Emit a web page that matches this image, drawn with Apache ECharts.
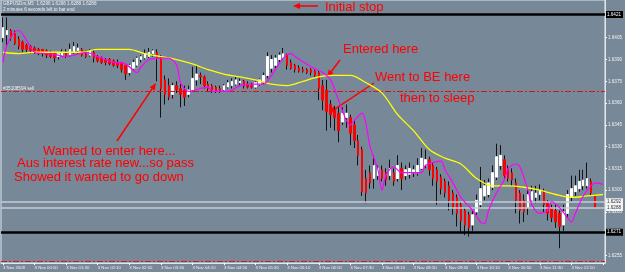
<!DOCTYPE html>
<html>
<head>
<meta charset="utf-8">
<title>GBPUSDm,M5</title>
<script src="https://cdn.jsdelivr.net/npm/echarts@6/dist/echarts.min.js"></script>
<style>
html,body{margin:0;padding:0;background:#778899;}
#chart{width:625px;height:272px;}
</style>
</head>
<body>
<div id="chart"></div>
<script>
// 5 minute bars, 3 Nov 2009 (last two slots are the empty shift on the right)
const times = [
  "00:10","00:15","00:20","00:25","00:30","00:35","00:40","00:45","00:50","00:55",
  "01:00","01:05","01:10","01:15","01:20","01:25","01:30","01:35","01:40","01:45","01:50","01:55",
  "02:00","02:05","02:10","02:15","02:20","02:25","02:30","02:35","02:40","02:45","02:50","02:55",
  "03:00","03:05","03:10","03:15","03:20","03:25","03:30","03:35","03:40","03:45","03:50","03:55",
  "04:00","04:05","04:10","04:15","04:20","04:25","04:30","04:35","04:40","04:45","04:50","04:55",
  "05:00","05:05","05:10","05:15","05:20","05:25","05:30","05:35","05:40","05:45","05:50","05:55",
  "06:00","06:05","06:10","06:15","06:20","06:25","06:30","06:35","06:40","06:45","06:50","06:55",
  "07:00","07:05","07:10","07:15","07:20","07:25","07:30","07:35","07:40","07:45","07:50","07:55",
  "08:00","08:05","08:10","08:15","08:20","08:25","08:30","08:35","08:40","08:45","08:50","08:55",
  "09:00","09:05","09:10","09:15","09:20","09:25","09:30","09:35","09:40","09:45","09:50","09:55",
  "10:00","10:05","10:10","10:15","10:20","10:25","10:30","10:35","10:40","10:45","10:50","10:55",
  "11:00","11:05","11:10","11:15","11:20","11:25","11:30","11:35","11:40","11:45","11:50","11:55",
  "12:00","12:05","12:10","12:15","12:20","12:25","12:30","12:35","12:40","12:45","12:50"
];

const opens = [
  1.6405,1.6407,1.6410,1.6408,1.6404,1.6402,1.6400,1.6399,1.6398,1.6397,
  1.6397,1.6396,1.6395,1.6394,1.6392,1.6393,1.6395,1.6393,1.6395,1.6396,
  1.6397,1.6394,1.6393,1.6395,1.6392,1.6391,1.6390,1.6390,1.6389,1.6388,
  1.6388,1.6386,1.6381,1.6384,1.6386,1.6390,1.6391,1.6392,1.6394,1.6395,
  1.6391,1.6376,1.6372,1.6366,1.6372,1.6370,1.6369,1.6366,1.6369,1.6376,
  1.6379,1.6378,1.6373,1.6372,1.6371,1.6370,1.6369,1.6371,1.6372,1.6373,
  1.6374,1.6375,1.6373,1.6372,1.6371,1.6373,1.6375,1.6379,1.6384,1.6386,
  1.6390,1.6391,1.6393,1.6388,1.6386,1.6384,1.6383,1.6383,1.6383,1.6382,
  1.6381,1.6372,1.6369,1.6359,1.6355,1.6353,1.6347,1.6350,1.6350,1.6345,
  1.6334,1.6328,1.6308,1.6312,1.6308,1.6310,1.6314,1.6312,1.6310,1.6312,
  1.6308,1.6315,1.6310,1.6311,1.6312,1.6312,1.6315,1.6317,1.6321,1.6317,
  1.6314,1.6309,1.6306,1.6303,1.6298,1.6295,1.6290,1.6286,1.6283,1.6276,
  1.6285,1.6290,1.6296,1.6297,1.6302,1.6309,1.6317,1.6321,1.6315,1.6312,
  1.6305,1.6298,1.6293,1.6288,1.6293,1.6295,1.6297,1.6299,1.6291,1.6288,
  1.6286,1.6284,1.6276,1.6284,1.6295,1.6299,1.6301,1.6303,1.6303,1.6306,
  1.6296
];
const highs = [
  1.6419,1.6419,1.6411,1.6410,1.6406,1.6403,1.6401,1.6400,1.6399,1.6398,
  1.6397,1.6397,1.6396,1.6395,1.6395,1.6397,1.6397,1.6401,1.6402,1.6401,
  1.6398,1.6396,1.6397,1.6397,1.6393,1.6392,1.6391,1.6391,1.6390,1.6390,
  1.6388,1.6386,1.6387,1.6390,1.6392,1.6393,1.6397,1.6398,1.6397,1.6397,
  1.6393,1.6379,1.6377,1.6374,1.6375,1.6373,1.6372,1.6372,1.6385,1.6386,
  1.6381,1.6379,1.6375,1.6373,1.6372,1.6372,1.6373,1.6376,1.6377,1.6378,
  1.6377,1.6376,1.6375,1.6374,1.6375,1.6377,1.6381,1.6395,1.6393,1.6393,
  1.6395,1.6398,1.6394,1.6390,1.6387,1.6386,1.6385,1.6384,1.6384,1.6383,
  1.6382,1.6376,1.6376,1.6362,1.6358,1.6357,1.6357,1.6359,1.6352,1.6348,
  1.6338,1.6330,1.6314,1.6317,1.6324,1.6317,1.6317,1.6315,1.6321,1.6315,
  1.6324,1.6319,1.6317,1.6319,1.6317,1.6322,1.6329,1.6328,1.6323,1.6319,
  1.6316,1.6311,1.6308,1.6306,1.6300,1.6297,1.6292,1.6288,1.6285,1.6286,
  1.6297,1.6316,1.6307,1.6308,1.6317,1.6332,1.6331,1.6324,1.6317,1.6315,
  1.6308,1.6300,1.6297,1.6300,1.6303,1.6303,1.6304,1.6301,1.6293,1.6290,
  1.6290,1.6286,1.6290,1.6300,1.6310,1.6310,1.6314,1.6314,1.6319,1.6308,
  1.6296
];
const lows = [
  1.6402,1.6399,1.6403,1.6400,1.6397,1.6395,1.6395,1.6394,1.6394,1.6393,
  1.6392,1.6391,1.6391,1.6388,1.6390,1.6392,1.6391,1.6392,1.6394,1.6394,
  1.6392,1.6391,1.6392,1.6388,1.6388,1.6387,1.6386,1.6386,1.6385,1.6384,
  1.6381,1.6376,1.6379,1.6383,1.6385,1.6388,1.6390,1.6391,1.6392,1.6375,
  1.6350,1.6359,1.6362,1.6363,1.6367,1.6357,1.6358,1.6364,1.6368,1.6372,
  1.6373,1.6370,1.6368,1.6367,1.6367,1.6367,1.6368,1.6370,1.6370,1.6372,
  1.6372,1.6370,1.6370,1.6370,1.6370,1.6372,1.6373,1.6377,1.6381,1.6384,
  1.6388,1.6390,1.6383,1.6383,1.6381,1.6381,1.6381,1.6380,1.6379,1.6378,
  1.6362,1.6355,1.6341,1.6343,1.6341,1.6333,1.6345,1.6343,1.6331,1.6329,
  1.6317,1.6296,1.6291,1.6301,1.6301,1.6307,1.6306,1.6303,1.6307,1.6303,
  1.6306,1.6300,1.6307,1.6308,1.6309,1.6310,1.6314,1.6315,1.6310,1.6303,
  1.6290,1.6297,1.6295,1.6286,1.6283,1.6275,1.6271,1.6269,1.6268,1.6272,
  1.6283,1.6288,1.6293,1.6295,1.6300,1.6307,1.6314,1.6308,1.6306,1.6303,
  1.6284,1.6277,1.6278,1.6283,1.6290,1.6291,1.6293,1.6285,1.6279,1.6278,
  1.6274,1.6260,1.6272,1.6281,1.6292,1.6296,1.6299,1.6300,1.6301,1.6296,
  1.6288
];
const closes = [
  1.6412,1.6410,1.6405,1.6401,1.6399,1.6397,1.6397,1.6396,1.6395,1.6394,
  1.6394,1.6393,1.6392,1.6391,1.6394,1.6395,1.6392,1.6397,1.6399,1.6398,
  1.6393,1.6392,1.6396,1.6391,1.6389,1.6388,1.6388,1.6387,1.6386,1.6386,
  1.6383,1.6380,1.6386,1.6388,1.6391,1.6392,1.6394,1.6395,1.6396,1.6391,
  1.6370,1.6366,1.6364,1.6372,1.6369,1.6366,1.6364,1.6369,1.6377,1.6380,
  1.6378,1.6372,1.6370,1.6369,1.6368,1.6368,1.6372,1.6374,1.6375,1.6376,
  1.6375,1.6372,1.6371,1.6371,1.6374,1.6376,1.6379,1.6392,1.6390,1.6391,
  1.6393,1.6394,1.6386,1.6384,1.6383,1.6382,1.6382,1.6381,1.6381,1.6379,
  1.6370,1.6362,1.6354,1.6352,1.6350,1.6341,1.6353,1.6353,1.6339,1.6334,
  1.6324,1.6299,1.6298,1.6305,1.6317,1.6315,1.6308,1.6307,1.6315,1.6306,
  1.6317,1.6308,1.6314,1.6315,1.6314,1.6317,1.6322,1.6321,1.6314,1.6308,
  1.6306,1.6301,1.6298,1.6293,1.6288,1.6284,1.6279,1.6276,1.6274,1.6283,
  1.6293,1.6301,1.6303,1.6305,1.6312,1.6323,1.6324,1.6310,1.6308,1.6307,
  1.6293,1.6286,1.6285,1.6297,1.6299,1.6298,1.6300,1.6290,1.6284,1.6281,
  1.6278,1.6275,1.6285,1.6297,1.6301,1.6303,1.6306,1.6307,1.6308,1.6298,
  1.6288
];

// yellow (slow) average, read every 4 bars
const slowBars = [0,4,8,12,16,20,24,28,32,36,40,44,48,52,56,60,64,68,72,76,80,84,88,92,96,100,104,108,112,116,120,124,128,132,136,140,144,148,152];
const slowMA = [1.6395,1.6394,1.6395,1.6395,1.6395,1.6395,1.6397,1.6397,1.6397,1.6394,
  1.6392,1.6390,1.6387,1.6383,1.6380,1.6378,1.6376,1.6373,1.6372,1.6375,
  1.6378,1.6379,1.6379,1.6374,1.6367,1.6352,1.6341,1.6328,1.6322,1.6318,
  1.6308,1.6303,1.6303,1.6302,1.6300,1.6297,1.6295,1.6296,1.6297];

// magenta (fast) average, read at its turning points
const fastBars = [0,1,3,4,6,8,11,14,15,18,21,24,28,31,34,35,37,41,42,44,
  45,47,50,52,53,57,60,64,66,68,71,73,74,78,81,83,85,87,88,89,
  91,92,93,95,96,97,99,101,103,106,107,109,111,112,114,116,119,121,122,123,
  125,127,128,130,131,133,134,136,138,139,141,143,144,145,147,149,150,152];
const fastMA = [1.6388,1.6400,1.6409,1.6410,1.6403,1.6395,1.6394,1.6393,1.6392,1.6393,
  1.6395,1.6392,1.6388,1.6387,1.6381,1.6385,1.6390,1.6391,1.6391,1.6386,
  1.6374,1.6368,1.6370,1.6371,1.6368,1.6368,1.6372,1.6373,1.6373,1.6379,
  1.6391,1.6394,1.6392,1.6385,1.6381,1.6376,1.6362,1.6348,1.6345,1.6348,
  1.6353,1.6345,1.6330,1.6314,1.6300,1.6310,1.6316,1.6312,1.6312,1.6312,
  1.6317,1.6319,1.6320,1.6314,1.6305,1.6295,1.6286,1.6278,1.6277,1.6286,
  1.6298,1.6307,1.6315,1.6318,1.6316,1.6300,1.6290,1.6284,1.6286,1.6292,
  1.6288,1.6281,1.6278,1.6284,1.6296,1.6303,1.6305,1.6304];

const yTicks = [1.6405,1.6390,1.6375,1.6360,1.6345,1.6330,1.6315,1.6300,1.6285,1.6255];
const priceMin = 1.62498, priceMax = 1.6431;
const stopLevel = 1.6421, lowLevel = 1.6271;
const orderLevel = 1.6368, lowerOrder = 1.6251;
const askLevel = 1.6292, bidLevel = 1.6288;

const myChart = echarts.init(document.getElementById('chart'));
const tiny = 'Liberation Sans';
const red = '#ff0000';

const wickData = opens.map((o,i)=>[o, closes[i], lows[i], highs[i]]);
const bodyData = opens.map((o,i)=>[o, closes[i], Math.min(o,closes[i]), Math.max(o,closes[i])]);

function boxLabel(bg, fg){
  return {show:true, position:'end', distance:1, formatter:(p)=>Number(p.value).toFixed(4),
    backgroundColor:bg, color:fg, fontSize:4.6, fontFamily:tiny, padding:[1,2,1,1]};
}

function arrow(x1,y1,x2,y2){
  const a = Math.atan2(y2-y1, x2-x1), len = 7, hw = 3;
  const bx = x2 - len*Math.cos(a), by = y2 - len*Math.sin(a);
  return [
    {type:'line', shape:{x1:x1,y1:y1,x2:bx,y2:by}, style:{stroke:red, lineWidth:1.5}},
    {type:'polygon', shape:{points:[[x2,y2],[bx - hw*Math.sin(a), by + hw*Math.cos(a)],[bx + hw*Math.sin(a), by - hw*Math.cos(a)]]}, style:{fill:red}}
  ];
}
function note(x,y,text){
  return {type:'text', x:x, y:y, style:{text:text, fill:red, font:'13px "Liberation Sans"', align:'left', verticalAlign:'middle'}};
}
function small(x,y,text){
  return {type:'text', x:x, y:y, style:{text:text, fill:'#f2f2f2', font:'4.6px "Liberation Sans"', align:'left', verticalAlign:'middle'}};
}

const option = {
  backgroundColor:'#778899',
  animation:false,
  grid:{left:0, right:18, top:0, height:263, show:true, borderColor:'#dfe5eb', borderWidth:1},
  xAxis:{
    type:'category', data:times, boundaryGap:true,
    axisLine:{show:true, lineStyle:{color:'#dfe5eb', width:1}},
    axisTick:{show:true, interval:7, alignWithLabel:true, length:2, lineStyle:{color:'#ffffff'}},
    axisLabel:{interval:7, align:'left', margin:3, color:'#f2f2f2', fontSize:4.3, fontFamily:tiny,
      formatter:(v,idx)=> idx===0 ? '3 Nov 2009' : (idx>150 ? '' : '3 Nov ' + v)},
    splitLine:{show:false}
  },
  yAxis:{
    type:'value', position:'right', min:priceMin, max:priceMax,
    axisLine:{show:true, lineStyle:{color:'#dfe5eb'}},
    axisTick:{show:true, customValues:yTicks, length:2, lineStyle:{color:'#ffffff'}},
    axisLabel:{customValues:yTicks, margin:3, color:'#f2f2f2', fontSize:4.6, fontFamily:tiny,
      formatter:(v)=>v.toFixed(4)},
    splitLine:{show:false}
  },
  series:[
    {
      name:'wick', type:'candlestick', data:wickData, barWidth:1,
      itemStyle:{color:'#121212', color0:'#121212', borderColor:'#121212', borderColor0:'#121212', borderWidth:1}
    },
    {
      name:'body', type:'candlestick', data:bodyData, barWidth:2,
      itemStyle:{color:'#ffffff', color0:'#ff0000', borderColor:'#ffffff', borderColor0:'#ff0000', borderWidth:1}
    },
    {
      name:'slow', type:'line', data:slowBars.map((b,k)=>[b, slowMA[k]]),
      showSymbol:false, smooth:0.3, lineStyle:{color:'#ffff00', width:1.3}, z:5
    },
    {
      name:'fast', type:'line', data:fastBars.map((b,k)=>[b, fastMA[k]]),
      showSymbol:false, smooth:0.3, lineStyle:{color:'#ff00ff', width:1.2}, z:6,
      markLine:{
        symbol:'none', silent:true, animation:false, precision:4,
        data:[
          {yAxis:stopLevel, lineStyle:{color:'#000', width:2.5, type:'solid'}, label:boxLabel('#000','#fff')},
          {yAxis:lowLevel, lineStyle:{color:'#000', width:2.5, type:'solid'}, label:boxLabel('#000','#fff')},
          {yAxis:askLevel, lineStyle:{color:'#c5cdd5', width:1.5, type:'solid'}, label:boxLabel('#f4f4f4','#333')},
          {yAxis:bidLevel, lineStyle:{color:'#c5cdd5', width:1.5, type:'solid'}, label:boxLabel('#f4f4f4','#333')},
          {yAxis:orderLevel, lineStyle:{color:'#e01010', width:1, type:[6,2,2,2]}, label:{show:false}},
          {yAxis:lowerOrder, lineStyle:{color:'#e01010', width:1, type:[6,2,2,2]}, label:{show:false}}
        ]
      }
    }
  ],
  graphic:[
    small(3,3.5,'GBPUSDm,M5  1.6296 1.6296 1.6288 1.6288'),
    small(3,9.5,'2 minutes 6 seconds left to bar end'),
    small(3,88.5,'#35108594 sell'),
    note(325,7,'Initial stop'),
    note(343,49,'Entered here'),
    note(375,77,'Went to BE here'),
    note(400,98,'then to sleep'),
    note(43,151,'Wanted to enter here...'),
    note(17,163,'Aus interest rate new...so pass'),
    note(14,177,'Showed it wanted to go down'),
    ...arrow(318,6,293,6),
    ...arrow(340,60,327,77),
    ...arrow(374,83,329,113),
    ...arrow(117,141,156,83)
  ]
};

myChart.setOption(option);
</script>
</body>
</html>
